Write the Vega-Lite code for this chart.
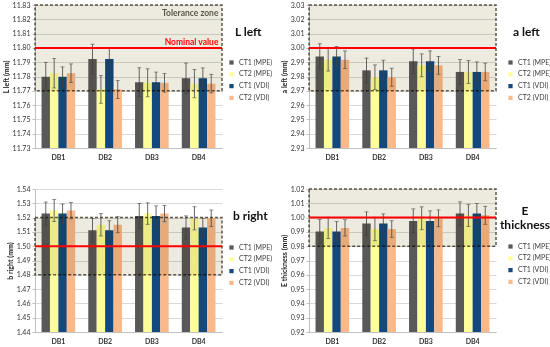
{
  "$schema": "https://vega.github.io/schema/vega-lite/v6.json",
  "padding": {"left": 2, "top": 1, "right": 0, "bottom": 0},
  "background": "white",
  "columns": 2,
  "bounds": "flush",
  "spacing": {"row": 41, "column": 87},
  "resolve": {"scale": {"color": "independent"}, "legend": {"color": "independent"}},
  "datasets": {
    "L": [
      {"db": "DB1", "s": "CT1 (MPE)", "v": 11.7798, "lo": 11.7699, "hi": 11.7899},
      {"db": "DB1", "s": "CT2 (MPE)", "v": 11.7823, "lo": 11.7720, "hi": 11.7926},
      {"db": "DB1", "s": "CT1 (VDI)", "v": 11.7798, "lo": 11.7727, "hi": 11.7867},
      {"db": "DB1", "s": "CT2 (VDI)", "v": 11.7823, "lo": 11.7758, "hi": 11.7888},
      {"db": "DB2", "s": "CT1 (MPE)", "v": 11.7922, "lo": 11.7818, "hi": 11.8026},
      {"db": "DB2", "s": "CT2 (MPE)", "v": 11.7710, "lo": 11.7613, "hi": 11.7807},
      {"db": "DB2", "s": "CT1 (VDI)", "v": 11.7922, "lo": 11.7846, "hi": 11.7998},
      {"db": "DB2", "s": "CT2 (VDI)", "v": 11.7710, "lo": 11.7647, "hi": 11.7773},
      {"db": "DB3", "s": "CT1 (MPE)", "v": 11.7760, "lo": 11.7659, "hi": 11.7861},
      {"db": "DB3", "s": "CT2 (MPE)", "v": 11.7756, "lo": 11.7658, "hi": 11.7854},
      {"db": "DB3", "s": "CT1 (VDI)", "v": 11.7760, "lo": 11.7689, "hi": 11.7831},
      {"db": "DB3", "s": "CT2 (VDI)", "v": 11.7756, "lo": 11.7691, "hi": 11.7821},
      {"db": "DB4", "s": "CT1 (MPE)", "v": 11.7788, "lo": 11.7682, "hi": 11.7894},
      {"db": "DB4", "s": "CT2 (MPE)", "v": 11.7750, "lo": 11.7651, "hi": 11.7849},
      {"db": "DB4", "s": "CT1 (VDI)", "v": 11.7788, "lo": 11.7716, "hi": 11.7860},
      {"db": "DB4", "s": "CT2 (VDI)", "v": 11.7750, "lo": 11.7685, "hi": 11.7815}
    ],
    "A": [
      {"db": "DB1", "s": "CT1 (MPE)", "v": 2.9940, "lo": 2.9851, "hi": 3.0029},
      {"db": "DB1", "s": "CT2 (MPE)", "v": 2.9917, "lo": 2.9838, "hi": 2.9996},
      {"db": "DB1", "s": "CT1 (VDI)", "v": 2.9940, "lo": 2.9870, "hi": 3.0010},
      {"db": "DB1", "s": "CT2 (VDI)", "v": 2.9917, "lo": 2.9855, "hi": 2.9979},
      {"db": "DB2", "s": "CT1 (MPE)", "v": 2.9843, "lo": 2.9757, "hi": 2.9929},
      {"db": "DB2", "s": "CT2 (MPE)", "v": 2.9795, "lo": 2.9709, "hi": 2.9881},
      {"db": "DB2", "s": "CT1 (VDI)", "v": 2.9843, "lo": 2.9772, "hi": 2.9914},
      {"db": "DB2", "s": "CT2 (VDI)", "v": 2.9795, "lo": 2.9732, "hi": 2.9858},
      {"db": "DB3", "s": "CT1 (MPE)", "v": 2.9907, "lo": 2.9821, "hi": 2.9993},
      {"db": "DB3", "s": "CT2 (MPE)", "v": 2.9878, "lo": 2.9798, "hi": 2.9958},
      {"db": "DB3", "s": "CT1 (VDI)", "v": 2.9907, "lo": 2.9835, "hi": 2.9979},
      {"db": "DB3", "s": "CT2 (VDI)", "v": 2.9878, "lo": 2.9816, "hi": 2.9940},
      {"db": "DB4", "s": "CT1 (MPE)", "v": 2.9832, "lo": 2.9746, "hi": 2.9918},
      {"db": "DB4", "s": "CT2 (MPE)", "v": 2.9832, "lo": 2.9752, "hi": 2.9912},
      {"db": "DB4", "s": "CT1 (VDI)", "v": 2.9832, "lo": 2.9762, "hi": 2.9902},
      {"db": "DB4", "s": "CT2 (VDI)", "v": 2.9832, "lo": 2.9770, "hi": 2.9894}
    ],
    "B": [
      {"db": "DB1", "s": "CT1 (MPE)", "v": 1.5228, "lo": 1.5147, "hi": 1.5309},
      {"db": "DB1", "s": "CT2 (MPE)", "v": 1.5249, "lo": 1.5172, "hi": 1.5326},
      {"db": "DB1", "s": "CT1 (VDI)", "v": 1.5228, "lo": 1.5161, "hi": 1.5295},
      {"db": "DB1", "s": "CT2 (VDI)", "v": 1.5249, "lo": 1.5192, "hi": 1.5306},
      {"db": "DB2", "s": "CT1 (MPE)", "v": 1.5112, "lo": 1.5030, "hi": 1.5194},
      {"db": "DB2", "s": "CT2 (MPE)", "v": 1.5150, "lo": 1.5072, "hi": 1.5228},
      {"db": "DB2", "s": "CT1 (VDI)", "v": 1.5112, "lo": 1.5046, "hi": 1.5178},
      {"db": "DB2", "s": "CT2 (VDI)", "v": 1.5150, "lo": 1.5094, "hi": 1.5206},
      {"db": "DB3", "s": "CT1 (MPE)", "v": 1.5212, "lo": 1.5126, "hi": 1.5298},
      {"db": "DB3", "s": "CT2 (MPE)", "v": 1.5228, "lo": 1.5153, "hi": 1.5303},
      {"db": "DB3", "s": "CT1 (VDI)", "v": 1.5212, "lo": 1.5142, "hi": 1.5282},
      {"db": "DB3", "s": "CT2 (VDI)", "v": 1.5228, "lo": 1.5171, "hi": 1.5285},
      {"db": "DB4", "s": "CT1 (MPE)", "v": 1.5131, "lo": 1.5050, "hi": 1.5212},
      {"db": "DB4", "s": "CT2 (MPE)", "v": 1.5195, "lo": 1.5114, "hi": 1.5276},
      {"db": "DB4", "s": "CT1 (VDI)", "v": 1.5131, "lo": 1.5067, "hi": 1.5195},
      {"db": "DB4", "s": "CT2 (VDI)", "v": 1.5195, "lo": 1.5137, "hi": 1.5253}
    ],
    "E": [
      {"db": "DB1", "s": "CT1 (MPE)", "v": 0.9903, "lo": 0.9820, "hi": 0.9986},
      {"db": "DB1", "s": "CT2 (MPE)", "v": 0.9928, "lo": 0.9854, "hi": 1.0002},
      {"db": "DB1", "s": "CT1 (VDI)", "v": 0.9903, "lo": 0.9834, "hi": 0.9972},
      {"db": "DB1", "s": "CT2 (VDI)", "v": 0.9928, "lo": 0.9871, "hi": 0.9985},
      {"db": "DB2", "s": "CT1 (MPE)", "v": 0.9958, "lo": 0.9876, "hi": 1.0040},
      {"db": "DB2", "s": "CT2 (MPE)", "v": 0.9920, "lo": 0.9838, "hi": 1.0002},
      {"db": "DB2", "s": "CT1 (VDI)", "v": 0.9958, "lo": 0.9890, "hi": 1.0026},
      {"db": "DB2", "s": "CT2 (VDI)", "v": 0.9920, "lo": 0.9862, "hi": 0.9978},
      {"db": "DB3", "s": "CT1 (MPE)", "v": 0.9977, "lo": 0.9893, "hi": 1.0061},
      {"db": "DB3", "s": "CT2 (MPE)", "v": 0.9995, "lo": 0.9915, "hi": 1.0075},
      {"db": "DB3", "s": "CT1 (VDI)", "v": 0.9977, "lo": 0.9907, "hi": 1.0047},
      {"db": "DB3", "s": "CT2 (VDI)", "v": 0.9995, "lo": 0.9936, "hi": 1.0054},
      {"db": "DB4", "s": "CT1 (MPE)", "v": 1.0028, "lo": 0.9946, "hi": 1.0110},
      {"db": "DB4", "s": "CT2 (MPE)", "v": 1.0016, "lo": 0.9939, "hi": 1.0093},
      {"db": "DB4", "s": "CT1 (VDI)", "v": 1.0028, "lo": 0.9958, "hi": 1.0098},
      {"db": "DB4", "s": "CT2 (VDI)", "v": 1.0016, "lo": 0.9953, "hi": 1.0079}
    ]
  },
  "concat": [
    {
      "width": 187, "height": 143,
      "title": {"text": "L left", "frame": "group", "anchor": "start", "orient": "top", "offset": 0, "dx": 200, "dy": 38, "baseline": "top", "fontSize": 12, "fontWeight": "bold", "font": "Lato", "color": "#111111"},
      "layer": [
        {
          "data": {"name": "L"},
          "mark": {"type": "bar"},
          "encoding": {
            "x": {"field": "db", "type": "nominal", "title": null, "scale": {"paddingInner": 0.28, "paddingOuter": 0.14}},
            "xOffset": {"field": "s", "type": "nominal", "scale": {"domain": ["CT1 (MPE)", "CT2 (MPE)", "CT1 (VDI)", "CT2 (VDI)"], "paddingInner": 0, "paddingOuter": 0}},
            "y": {"field": "v", "type": "quantitative", "title": "L left (mm)", "scale": {"domain": [11.73, 11.83], "zero": false, "nice": false}},
            "y2": {"datum": 11.73},
            "color": {"field": "s", "type": "nominal", "scale": {"domain": ["CT1 (MPE)", "CT2 (MPE)", "CT1 (VDI)", "CT2 (VDI)"], "range": ["#595959", "#FFFF99", "#14497F", "#FAB98A"]}, "legend": {"legendX": 193, "legendY": 54}}
          }
        },
        {
          "data": {"values": [{}]},
          "mark": {"type": "rect", "fill": "#EDEBE0", "blend": "multiply", "stroke": "#5F5B48", "strokeWidth": 1.5, "strokeDash": [3, 2]},
          "encoding": {"y": {"datum": 11.83, "type": "quantitative", "title": "L left (mm)"}, "y2": {"datum": 11.77}}
        },
        {
          "data": {"name": "L"},
          "mark": {"type": "rule", "color": "#404040", "strokeWidth": 0.8},
          "encoding": {
            "x": {"field": "db", "type": "nominal", "title": null},
            "xOffset": {"field": "s", "type": "nominal"},
            "y": {"field": "lo", "type": "quantitative", "title": "L left (mm)"},
            "y2": {"field": "hi"}
          }
        },
        {
          "data": {"name": "L"},
          "mark": {"type": "tick", "color": "#404040", "thickness": 0.8, "size": 4},
          "encoding": {"x": {"field": "db", "type": "nominal", "title": null}, "xOffset": {"field": "s", "type": "nominal"}, "y": {"field": "lo", "type": "quantitative", "title": "L left (mm)"}}
        },
        {
          "data": {"name": "L"},
          "mark": {"type": "tick", "color": "#404040", "thickness": 0.8, "size": 4},
          "encoding": {"x": {"field": "db", "type": "nominal", "title": null}, "xOffset": {"field": "s", "type": "nominal"}, "y": {"field": "hi", "type": "quantitative", "title": "L left (mm)"}}
        },
        {
          "data": {"values": [{}]},
          "mark": {"type": "rule", "color": "#FF0000", "strokeWidth": 2},
          "encoding": {"y": {"datum": 11.80, "type": "quantitative", "title": "L left (mm)"}}
        },
        {
          "data": {"values": [{"t": "Tolerance zone", "y": 11.8245, "c": "tz"}, {"t": "Nominal value", "y": 11.8042, "c": "nv"}]},
          "mark": {"type": "text", "align": "right", "baseline": "middle", "fontWeight": "bold", "fontSize": 8.5, "font": "Lato", "dx": 3},
          "encoding": {
            "x": {"datum": "DB4", "type": "nominal", "bandPosition": 1, "title": null},
            "y": {"field": "y", "type": "quantitative", "title": "L left (mm)"},
            "text": {"field": "t"},
            "color": {"field": "c", "type": "nominal", "scale": {"domain": ["tz", "nv"], "range": ["#5A5848", "#FF0000"]}, "legend": null}
          }
        }
      ],
      "resolve": {"scale": {"color": "independent"}}
    },
    {
      "width": 187, "height": 143,
      "title": {"text": "a left", "frame": "group", "anchor": "start", "orient": "top", "offset": 0, "dx": 204, "dy": 38, "baseline": "top", "fontSize": 12, "fontWeight": "bold", "font": "Lato", "color": "#111111"},
      "layer": [
        {
          "data": {"name": "A"},
          "mark": {"type": "bar"},
          "encoding": {
            "x": {"field": "db", "type": "nominal", "title": null, "scale": {"paddingInner": 0.28, "paddingOuter": 0.14}},
            "xOffset": {"field": "s", "type": "nominal", "scale": {"domain": ["CT1 (MPE)", "CT2 (MPE)", "CT1 (VDI)", "CT2 (VDI)"], "paddingInner": 0, "paddingOuter": 0}},
            "y": {"field": "v", "type": "quantitative", "title": "a left (mm)", "scale": {"domain": [2.93, 3.03], "zero": false, "nice": false}},
            "y2": {"datum": 2.93},
            "color": {"field": "s", "type": "nominal", "scale": {"domain": ["CT1 (MPE)", "CT2 (MPE)", "CT1 (VDI)", "CT2 (VDI)"], "range": ["#595959", "#FFFF99", "#14497F", "#FAB98A"]}, "legend": {"legendX": 198, "legendY": 54}}
          }
        },
        {
          "data": {"values": [{}]},
          "mark": {"type": "rect", "fill": "#EDEBE0", "blend": "multiply", "stroke": "#5F5B48", "strokeWidth": 1.5, "strokeDash": [3, 2]},
          "encoding": {"y": {"datum": 3.03, "type": "quantitative", "title": "a left (mm)"}, "y2": {"datum": 2.97}}
        },
        {
          "data": {"name": "A"},
          "mark": {"type": "rule", "color": "#404040", "strokeWidth": 0.8},
          "encoding": {"x": {"field": "db", "type": "nominal", "title": null}, "xOffset": {"field": "s", "type": "nominal"}, "y": {"field": "lo", "type": "quantitative", "title": "a left (mm)"}, "y2": {"field": "hi"}}
        },
        {
          "data": {"name": "A"},
          "mark": {"type": "tick", "color": "#404040", "thickness": 0.8, "size": 4},
          "encoding": {"x": {"field": "db", "type": "nominal", "title": null}, "xOffset": {"field": "s", "type": "nominal"}, "y": {"field": "lo", "type": "quantitative", "title": "a left (mm)"}}
        },
        {
          "data": {"name": "A"},
          "mark": {"type": "tick", "color": "#404040", "thickness": 0.8, "size": 4},
          "encoding": {"x": {"field": "db", "type": "nominal", "title": null}, "xOffset": {"field": "s", "type": "nominal"}, "y": {"field": "hi", "type": "quantitative", "title": "a left (mm)"}}
        },
        {
          "data": {"values": [{}]},
          "mark": {"type": "rule", "color": "#FF0000", "strokeWidth": 2},
          "encoding": {"y": {"datum": 3.00, "type": "quantitative", "title": "a left (mm)"}}
        }
      ]
    },
    {
      "width": 187, "height": 143,
      "title": {"text": "b right", "frame": "group", "anchor": "start", "orient": "top", "offset": 0, "dx": 198, "dy": 38, "baseline": "top", "fontSize": 12, "fontWeight": "bold", "font": "Lato", "color": "#111111"},
      "layer": [
        {
          "data": {"name": "B"},
          "mark": {"type": "bar"},
          "encoding": {
            "x": {"field": "db", "type": "nominal", "title": null, "scale": {"paddingInner": 0.28, "paddingOuter": 0.14}},
            "xOffset": {"field": "s", "type": "nominal", "scale": {"domain": ["CT1 (MPE)", "CT2 (MPE)", "CT1 (VDI)", "CT2 (VDI)"], "paddingInner": 0, "paddingOuter": 0}},
            "y": {"field": "v", "type": "quantitative", "title": "b right (mm)", "scale": {"domain": [1.44, 1.54], "zero": false, "nice": false}},
            "y2": {"datum": 1.44},
            "color": {"field": "s", "type": "nominal", "scale": {"domain": ["CT1 (MPE)", "CT2 (MPE)", "CT1 (VDI)", "CT2 (VDI)"], "range": ["#595959", "#FFFF99", "#14497F", "#FAB98A"]}, "legend": {"legendX": 193, "legendY": 55}}
          }
        },
        {
          "data": {"values": [{}]},
          "mark": {"type": "rect", "fill": "#EDEBE0", "blend": "multiply", "stroke": "#5F5B48", "strokeWidth": 1.5, "strokeDash": [3, 2]},
          "encoding": {"y": {"datum": 1.52, "type": "quantitative", "title": "b right (mm)"}, "y2": {"datum": 1.48}}
        },
        {
          "data": {"name": "B"},
          "mark": {"type": "rule", "color": "#404040", "strokeWidth": 0.8},
          "encoding": {"x": {"field": "db", "type": "nominal", "title": null}, "xOffset": {"field": "s", "type": "nominal"}, "y": {"field": "lo", "type": "quantitative", "title": "b right (mm)"}, "y2": {"field": "hi"}}
        },
        {
          "data": {"name": "B"},
          "mark": {"type": "tick", "color": "#404040", "thickness": 0.8, "size": 4},
          "encoding": {"x": {"field": "db", "type": "nominal", "title": null}, "xOffset": {"field": "s", "type": "nominal"}, "y": {"field": "lo", "type": "quantitative", "title": "b right (mm)"}}
        },
        {
          "data": {"name": "B"},
          "mark": {"type": "tick", "color": "#404040", "thickness": 0.8, "size": 4},
          "encoding": {"x": {"field": "db", "type": "nominal", "title": null}, "xOffset": {"field": "s", "type": "nominal"}, "y": {"field": "hi", "type": "quantitative", "title": "b right (mm)"}}
        },
        {
          "data": {"values": [{}]},
          "mark": {"type": "rule", "color": "#FF0000", "strokeWidth": 2},
          "encoding": {"y": {"datum": 1.50, "type": "quantitative", "title": "b right (mm)"}}
        }
      ]
    },
    {
      "width": 187, "height": 143,
      "title": {"text": ["E", "thickness"], "frame": "group", "anchor": "start", "align": "center", "orient": "top", "offset": 0, "dx": 216, "dy": 47, "baseline": "top", "lineHeight": 14, "fontSize": 12, "fontWeight": "bold", "font": "Lato", "color": "#111111"},
      "layer": [
        {
          "data": {"name": "E"},
          "mark": {"type": "bar"},
          "encoding": {
            "x": {"field": "db", "type": "nominal", "title": null, "scale": {"paddingInner": 0.28, "paddingOuter": 0.14}},
            "xOffset": {"field": "s", "type": "nominal", "scale": {"domain": ["CT1 (MPE)", "CT2 (MPE)", "CT1 (VDI)", "CT2 (VDI)"], "paddingInner": 0, "paddingOuter": 0}},
            "y": {"field": "v", "type": "quantitative", "title": "E thickness (mm)", "scale": {"domain": [0.92, 1.02], "zero": false, "nice": false}},
            "y2": {"datum": 0.92},
            "color": {"field": "s", "type": "nominal", "scale": {"domain": ["CT1 (MPE)", "CT2 (MPE)", "CT1 (VDI)", "CT2 (VDI)"], "range": ["#595959", "#FFFF99", "#14497F", "#FAB98A"]}, "legend": {"legendX": 198, "legendY": 54}}
          }
        },
        {
          "data": {"values": [{}]},
          "mark": {"type": "rect", "fill": "#EDEBE0", "blend": "multiply", "stroke": "#5F5B48", "strokeWidth": 1.5, "strokeDash": [3, 2]},
          "encoding": {"y": {"datum": 1.02, "type": "quantitative", "title": "E thickness (mm)"}, "y2": {"datum": 0.98}}
        },
        {
          "data": {"name": "E"},
          "mark": {"type": "rule", "color": "#404040", "strokeWidth": 0.8},
          "encoding": {"x": {"field": "db", "type": "nominal", "title": null}, "xOffset": {"field": "s", "type": "nominal"}, "y": {"field": "lo", "type": "quantitative", "title": "E thickness (mm)"}, "y2": {"field": "hi"}}
        },
        {
          "data": {"name": "E"},
          "mark": {"type": "tick", "color": "#404040", "thickness": 0.8, "size": 4},
          "encoding": {"x": {"field": "db", "type": "nominal", "title": null}, "xOffset": {"field": "s", "type": "nominal"}, "y": {"field": "lo", "type": "quantitative", "title": "E thickness (mm)"}}
        },
        {
          "data": {"name": "E"},
          "mark": {"type": "tick", "color": "#404040", "thickness": 0.8, "size": 4},
          "encoding": {"x": {"field": "db", "type": "nominal", "title": null}, "xOffset": {"field": "s", "type": "nominal"}, "y": {"field": "hi", "type": "quantitative", "title": "E thickness (mm)"}}
        },
        {
          "data": {"values": [{}]},
          "mark": {"type": "rule", "color": "#FF0000", "strokeWidth": 2},
          "encoding": {"y": {"datum": 1.00, "type": "quantitative", "title": "E thickness (mm)"}}
        }
      ]
    }
  ],
  "config": {
    "view": {"stroke": null},
    "font": "Lato",
    "axis": {"labelFont": "Lato", "titleFont": "Lato", "labelFontSize": 7, "labelColor": "#333333", "titleFontSize": 7, "titleFontWeight": "bold", "titleColor": "#222222", "domainColor": "#BFBFBF", "tickColor": "#BFBFBF", "gridColor": "#D9D9D9"},
    "axisX": {"labelFontWeight": "bold", "labelAngle": 0, "ticks": false, "grid": false, "labelPadding": 5},
    "axisY": {"tickCount": 10, "format": ".2f", "tickSize": 3, "labelPadding": 2, "titlePadding": 3},
    "legend": {"orient": "none", "title": null, "symbolType": "square", "symbolSize": 18, "symbolStrokeWidth": 0, "labelFont": "Lato", "labelFontSize": 7, "labelColor": "#404040", "rowPadding": 3.8}
  }
}
